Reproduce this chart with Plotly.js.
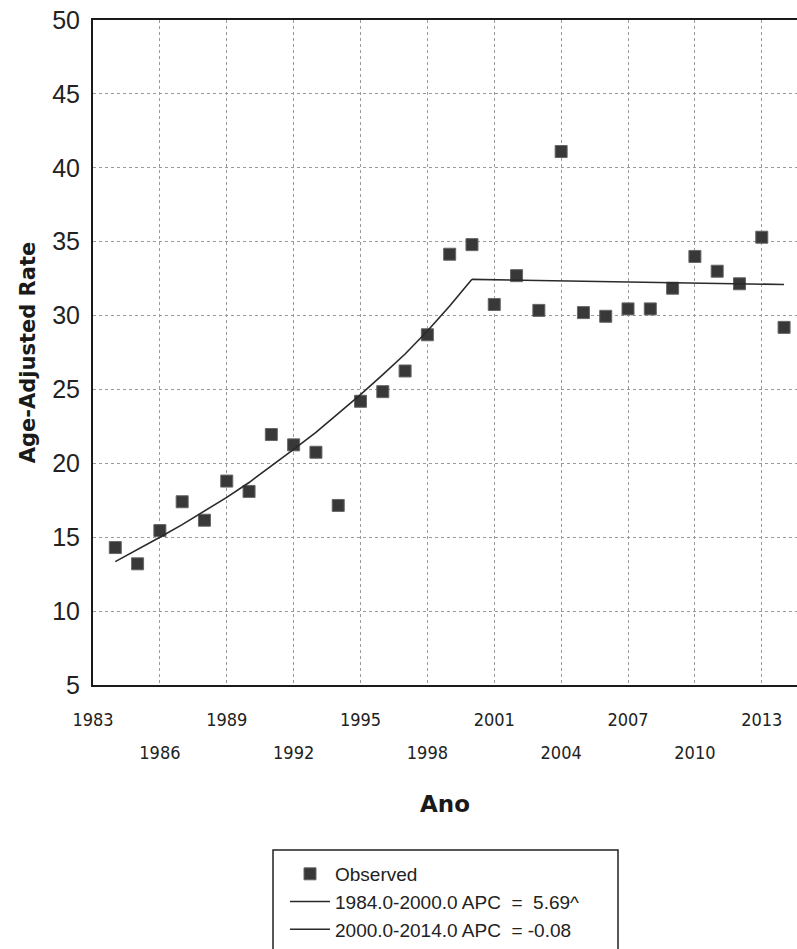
<!DOCTYPE html>
<html>
<head>
<meta charset="utf-8">
<script src="https://cdn.plot.ly/plotly-3.0.1.min.js"></script>
<style>html,body{margin:0;padding:0;background:#fff;}#chart{width:797px;height:949px;}</style>
</head>
<body>
<div id="chart"></div>
<script>
// Observed age-adjusted rates by year
const obsYears = [1984,1985,1986,1987,1988,1989,1990,1991,1992,1993,1994,1995,1996,1997,1998,1999,2000,2001,2002,2003,2004,2005,2006,2007,2008,2009,2010,2011,2012,2013,2014];
const obsRates = [14.3,13.2,15.45,17.4,16.15,18.8,18.1,21.95,21.25,20.75,17.15,24.2,24.85,26.25,28.7,34.15,34.8,30.75,32.7,30.35,41.1,30.2,29.95,30.45,30.45,31.85,34.0,33.0,32.15,35.3,29.2];

// Joinpoint segment 1 (1984-2000)
const fit1Years = [1984,1985,1986,1987,1988,1989,1990,1991,1992,1993,1994,1995,1996,1997,1998,1999,2000];
const fit1Rates = [13.35,14.15,15.0,15.85,16.75,17.7,18.7,19.8,20.95,22.1,23.35,24.65,26.0,27.4,28.95,30.65,32.45];

// Joinpoint segment 2 (2000-2014)
const fit2Years = [2000,2004,2007,2010,2014];
const fit2Rates = [32.45,32.35,32.3,32.2,32.1];

const seriesNames = ["Observed", "1984.0-2000.0 APC\u00a0\u00a0=\u00a0\u00a05.69^", "2000.0-2014.0 APC\u00a0\u00a0=\u00a0-0.08"];

// Tick labels (two staggered rows)
const xTicksRowA = [1983,1989,1995,2001,2007,2013];
const xTicksRowB = [1986,1992,1998,2004,2010];
const yTicks = [5,10,15,20,25,30,35,40,45,50];

const xRange = [1983, 2014.58];
const gridStyle = {showgrid:true, gridcolor:'#9a9a9a', griddash:'dot', gridwidth:1, zeroline:false};

const traces = [
  {x: obsYears, y: obsRates, type:'scatter', mode:'markers', name: seriesNames[0],
   marker:{symbol:'square', size:12, color:'#383838', line:{color:'#666', width:1}}},
  {x: fit1Years, y: fit1Rates, type:'scatter', mode:'lines', name: seriesNames[1],
   line:{color:'#2a2a2a', width:1.6}},
  {x: fit2Years, y: fit2Rates, type:'scatter', mode:'lines', name: seriesNames[2],
   line:{color:'#2a2a2a', width:1.6}},
  {x: [], y: [], xaxis:'x2', type:'scatter', mode:'markers', showlegend:false, hoverinfo:'skip'}
];

const tickFontX = {family:'"Liberation Sans Narrow", "DejaVu Sans Condensed", "Arial Narrow", sans-serif', size:18, color:'#222'};

const layout = {
  width:797, height:949, autosize:false,
  paper_bgcolor:'#fff', plot_bgcolor:'#fff',
  margin:{l:93, r:0, t:20, b:260},
  showlegend:true,
  xaxis: Object.assign({
    range: xRange, tickmode:'array', tickvals: xTicksRowA, ticktext: xTicksRowA.map(String),
    ticks:'', ticklabelstandoff:17, tickfont: tickFontX,
    showline:true, linecolor:'#1a1a1a', linewidth:2, mirror:true,
    title:{text:'Ano', font:{family:'"DejaVu Sans", sans-serif', size:23, color:'#1a1a1a', weight:'bold'}, standoff:67}
  }, gridStyle),
  xaxis2: Object.assign({
    range: xRange, overlaying:'x', anchor:'y', side:'bottom',
    tickmode:'array', tickvals: xTicksRowB, ticktext: xTicksRowB.map(String),
    ticks:'', ticklabelstandoff:55, tickfont: tickFontX, showline:false
  }, gridStyle),
  yaxis: Object.assign({
    range:[5,50], tickmode:'array', tickvals: yTicks, ticks:'', ticklabelstandoff:6,
    tickfont:{family:'"Liberation Sans", Arial, sans-serif', size:25, color:'#222'},
    showline:true, linecolor:'#1a1a1a', linewidth:2,
    title:{text:'Age-Adjusted Rate', font:{family:'"DejaVu Sans", sans-serif', size:21, color:'#1a1a1a', weight:'bold'}, standoff:11}
  }, gridStyle),
  legend:{
    x:(285-93)/704, y:(689-860)/669, xanchor:'left', yanchor:'top',
    bgcolor:'rgba(0,0,0,0)', borderwidth:0, tracegroupgap:0, itemwidth:40,
    font:{family:'"Liberation Sans", Arial, sans-serif', size:19, color:'#222'}
  },
  shapes:[{type:'rect', xref:'paper', yref:'paper',
    x0:(273-93)/704, x1:(618-93)/704, y0:(689-980)/669, y1:(689-855)/669,
    line:{color:'#222', width:1.5}, fillcolor:'rgba(0,0,0,0)'}]
};

Plotly.newPlot('chart', traces, layout, {displayModeBar:false, staticPlot:true});
</script>
</body>
</html>
